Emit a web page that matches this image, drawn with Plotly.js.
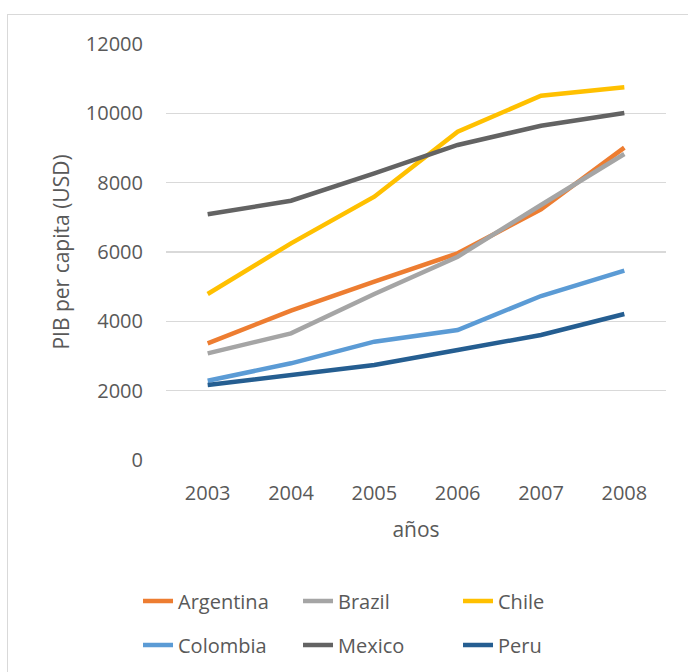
<!DOCTYPE html>
<html>
<head>
<meta charset="utf-8">
<script src="https://cdn.plot.ly/plotly-3.0.1.min.js"></script>
<style>
  html, body { margin: 0; padding: 0; background: #fff; }
  #wrap { position: relative; width: 688px; height: 672px; overflow: hidden; }
  #chart { width: 688px; height: 672px; }
  #frame { position: absolute; left: 7px; top: 14px; width: 700px; height: 700px;
           border: 1px solid #d9d9d9; box-sizing: border-box; pointer-events: none; }
</style>
</head>
<body>
<div id="wrap">
  <div id="chart"></div>
  <div id="frame"></div>
</div>
<script>
const years = ['2003', '2004', '2005', '2006', '2007', '2008'];
const argentina = [3365, 4307, 5143, 5962, 7231, 9010];
const brazil    = [3077, 3654, 4788, 5865, 7356, 8827];
const chile     = [4788, 6250, 7595, 9470, 10508, 10750];
const colombia  = [2288, 2789, 3413, 3750, 4730, 5461];
const mexico    = [7087, 7480, 8270, 9087, 9643, 10010];
const peru      = [2163, 2452, 2740, 3173, 3606, 4211];

const seriesNames = ['Argentina', 'Brazil', 'Chile', 'Colombia', 'Mexico', 'Peru'];
const seriesValues = [argentina, brazil, chile, colombia, mexico, peru];
const seriesColors = ['#ed7d31', '#a5a5a5', '#ffc000', '#5b9bd5', '#636363', '#255e91'];
const seriesLegend = ['legend', 'legend', 'legend', 'legend2', 'legend2', 'legend2'];

const FONT = '"Open Sans", Lato, sans-serif';
const TXT = '#595959';

const traces = seriesNames.map((n, i) => ({
  type: 'scatter',
  mode: 'lines',
  name: n,
  x: years,
  y: seriesValues[i],
  line: { color: seriesColors[i], width: 4.5 },
  legend: seriesLegend[i]
}));

const legendBase = {
  orientation: 'h',
  xref: 'container',
  x: 0.2006, xanchor: 'left',
  yref: 'container',
  yanchor: 'middle',
  entrywidth: 115, entrywidthmode: 'pixels',
  font: { family: FONT, size: 20, color: TXT },
  bgcolor: 'rgba(0,0,0,0)',
  itemwidth: 30
};

const layout = {
  width: 688, height: 672,
  margin: { l: 166, r: 22, t: 44, b: 212 },
  paper_bgcolor: '#ffffff',
  plot_bgcolor: '#ffffff',
  font: { family: FONT, size: 20, color: TXT },
  showlegend: true,
  xaxis: {
    type: 'category',
    range: [-0.5, 5.5],
    showgrid: false,
    zeroline: false,
    showline: false,
    ticks: 'outside', ticklen: 15, tickcolor: 'rgba(0,0,0,0)',
    tickfont: { family: FONT, size: 20, color: TXT },
    title: { text: 'años', font: { family: FONT, size: 21, color: TXT }, standoff: 17 }
  },
  yaxis: {
    range: [0, 12000],
    dtick: 2000,
    tickformat: 'd',
    showgrid: true,
    gridcolor: '#d9d9d9',
    gridwidth: 1.5,
    zeroline: false,
    showline: false,
    ticks: 'outside', ticklen: 18, tickcolor: 'rgba(0,0,0,0)',
    tickfont: { family: FONT, size: 20, color: TXT },
    title: { text: 'PIB per capita (USD)', font: { family: FONT, size: 21, color: TXT }, standoff: 10 }
  },
  legend: Object.assign({}, legendBase, { y: 0.1057 }),
  legend2: Object.assign({}, legendBase, { y: 0.0402 })
};

Plotly.newPlot('chart', traces, layout, { displayModeBar: false, staticPlot: true });
</script>
</body>
</html>
